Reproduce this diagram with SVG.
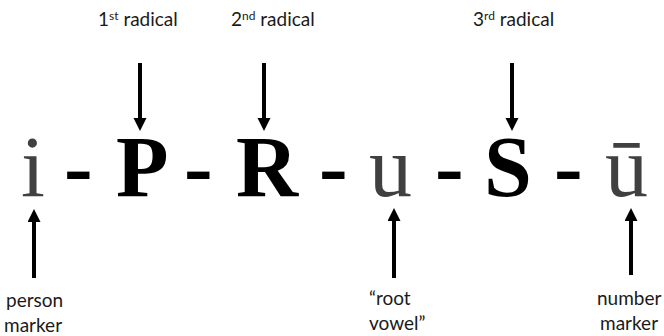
<svg xmlns="http://www.w3.org/2000/svg" width="664" height="336" viewBox="0 0 664 336">
<style>
.lbl{font-family:Lato,"Liberation Sans",sans-serif;font-size:19px;fill:#1a1a1a}
.sup{font-size:12px}
.big{font-family:"Liberation Serif","Times New Roman",serif;font-size:86px}
.b{font-weight:bold;fill:#000}
.g{fill:#404040}
.arr{stroke:#000;stroke-width:4;fill:none;marker-end:url(#ah)}
</style>
<defs>
<marker id="ah" markerUnits="userSpaceOnUse" markerWidth="14" markerHeight="14" refX="3" refY="6.5" orient="auto">
<path d="M0,0 L13,6.5 L0,13 Z" fill="#000"/>
</marker>
</defs>
<rect width="664" height="336" fill="#fff"/>
<g id="label-r1"><text class="lbl" x="98" y="26">1<tspan class="sup" dy="-6">st</tspan><tspan dy="6"> radical</tspan></text></g>
<g id="label-r2"><text class="lbl" x="231" y="26">2<tspan class="sup" dy="-6">nd</tspan><tspan dy="6"> radical</tspan></text></g>
<g id="label-r3"><text class="lbl" x="473" y="26">3<tspan class="sup" dy="-6">rd</tspan><tspan dy="6"> radical</tspan></text></g>
<g id="seg-i"><text class="big g" x="21" y="196">i</text></g>
<g id="hy1"><text class="big b" x="64" y="196">-</text></g>
<g id="seg-P"><text class="big b" x="116" y="196">P</text></g>
<g id="hy2"><text class="big b" x="184" y="196">-</text></g>
<g id="seg-R"><text class="big b" x="236" y="196">R</text></g>
<g id="hy3"><text class="big b" x="319" y="196">-</text></g>
<g id="seg-u"><text class="big g" x="369" y="196">u</text></g>
<g id="hy4"><text class="big b" x="435" y="196">-</text></g>
<g id="seg-S"><text class="big b" x="484" y="196">S</text></g>
<g id="hy5"><text class="big b" x="554" y="196">-</text></g>
<g id="seg-uu"><text class="big g" x="605" y="196">ū</text></g>
<g id="label-person"><text class="lbl" x="6" y="307">person</text><text class="lbl" x="4" y="332">marker</text></g>
<g id="label-root"><text class="lbl" x="369" y="305">“root</text><text class="lbl" x="369" y="330">vowel”</text></g>
<g id="label-number"><text class="lbl" x="597" y="305">number</text><text class="lbl" x="600" y="330">marker</text></g>
<g id="connectors">
<line class="arr" x1="140" y1="63" x2="140" y2="121"/>
<line class="arr" x1="264" y1="63" x2="264" y2="121"/>
<line class="arr" x1="512" y1="63" x2="512" y2="121"/>
<line class="arr" x1="34" y1="278" x2="34" y2="219"/>
<line class="arr" x1="394" y1="278" x2="394" y2="218"/>
<line class="arr" x1="631" y1="275" x2="631" y2="218"/>
</g>
</svg>
